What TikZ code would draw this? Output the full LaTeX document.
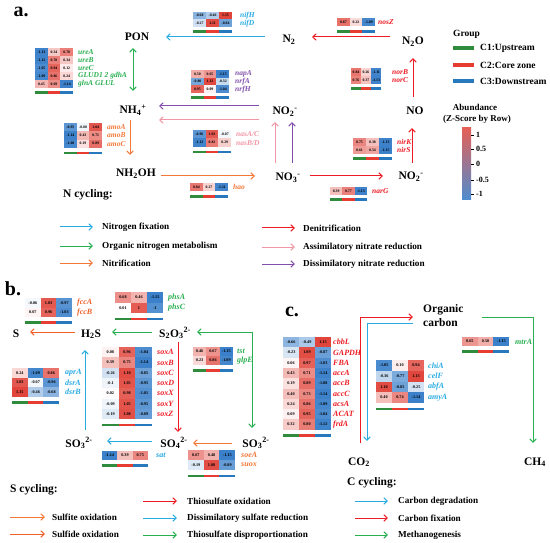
\documentclass[tikz,border=0pt]{standalone}
\usepackage{fontspec}
\setmainfont{Liberation Serif}
\usetikzlibrary{arrows.meta}
\definecolor{cblue}{RGB}{41,171,226}
\definecolor{cgreen}{RGB}{40,175,80}
\definecolor{corange}{RGB}{243,120,55}
\definecolor{corange2}{RGB}{240,95,40}
\definecolor{cred}{RGB}{237,28,36}
\definecolor{cpink}{RGB}{240,150,165}
\definecolor{cpurple}{RGB}{130,80,170}
\definecolor{gg}{RGB}{47,140,60}
\definecolor{gr}{RGB}{230,60,50}
\definecolor{gb}{RGB}{40,120,190}
\definecolor{hred}{RGB}{224,68,58}
\definecolor{hblue}{RGB}{58,128,202}
\newcommand{\subsup}[2]{\textsubscript{#1}\textsuperscript{#2}}
\def\numfs{3.8}
\def\labfs{7.5}
\newcommand{\hcell}[6]{%
  \pgfmathsetmacro{\hp}{min(100,abs(#6)/1.15*100)}%
  \pgfmathtruncatemacro{\hneg}{(#6)<0}%
  \ifnum\hneg=1 \def\hc{hblue}\else\def\hc{hred}\fi
  \fill[fill=\hc!\hp!white] (#2,#3) rectangle ++(#4,#5);
  \node[num] (#1) at ({#2+#4/2},{#3+#5/2}) {#6};
}
% name, x, y, w, h, nrows, label colour, label x, rows
\newcommand{\heat}[9]{%
  \foreach [count=\r] \va/\vb/\vc/\lab in {#9} {
    \pgfmathsetmacro{\yy}{#3+(\r-1)*#5}
    \hcell{#1-\r-1}{#2}{\yy}{#4}{#5}{\va}
    \pgfmathsetmacro{\xb}{#2+#4}
    \hcell{#1-\r-2}{\xb}{\yy}{#4}{#5}{\vb}
    \pgfmathsetmacro{\xc}{#2+2*#4}
    \hcell{#1-\r-3}{\xc}{\yy}{#4}{#5}{\vc}
    \node[glab,text=#7] (#1-l\r) at (#8,{\yy+#5/2}) {\lab};
  }
  \pgfmathsetmacro{\by}{#3+#6*#5+0.5*#5-0.5}
  \fill[gg] (#2,\by) rectangle ++(#4,2.5);
  \fill[gr] ({#2+#4},\by) rectangle ++(#4,2.5);
  \fill[gb] ({#2+2*#4},\by) rectangle ++(#4,2.5);
}
\begin{document}
\begin{tikzpicture}[x=1pt,y=-1pt,
  arr/.style={line width=1pt,-{Straight Barb[length=3.5pt,width=6.5pt]}},
  darr/.style={line width=1pt,{Straight Barb[length=3.5pt,width=6.5pt]}-{Straight Barb[length=3.5pt,width=6.5pt]}},
  chem/.style={font=\fontsize{11.5}{14}\selectfont\bfseries,inner sep=0pt,anchor=base},
  num/.style={font=\fontsize{\numfs}{\numfs}\selectfont\bfseries,inner sep=0pt},
  glab/.style={font=\fontsize{\labfs}{\labfs}\selectfont\bfseries\itshape,inner sep=0pt,anchor=west},
  leg/.style={font=\fontsize{9.2}{10}\selectfont\bfseries,inner sep=0pt,anchor=west},
  legh/.style={font=\fontsize{11.5}{12}\selectfont\bfseries,inner sep=0pt,anchor=west},
  ttl/.style={font=\fontsize{20}{22}\selectfont\bfseries,inner sep=0pt},
  grp/.style={font=\fontsize{9.5}{11}\selectfont\bfseries,inner sep=0pt},
  tick/.style={font=\fontsize{8}{9}\selectfont\bfseries,inner sep=0pt,anchor=west}]
\useasboundingbox (0,0) rectangle (550,543);
\fill[white] (0,0) rectangle (550,543);

% ================= panel a =================
\node[ttl] (ta) at (21,12) {a.};
\node[chem] (pon) at (137,41) {PON};
\node[chem] (n2) at (289,43) {N\textsubscript{2}};
\node[chem] (n2o) at (413,45) {N\textsubscript{2}O};
\node[chem] (nh4) at (133,114) {NH\subsup{4}{+}};
\node[chem] (no2a) at (285,115) {NO\subsup{2}{-}};
\node[chem] (no) at (415,115) {NO};
\node[chem] (nh2oh) at (136,177) {NH\textsubscript{2}OH};
\node[chem] (no3) at (288,181) {NO\subsup{3}{-}};
\node[chem] (no2b) at (411,180) {NO\subsup{2}{-}};

\coordinate (fixA) at (265,37); \coordinate (fixB) at (166,37);
\coordinate (nosA) at (390,37); \coordinate (nosB) at (312,37);
\coordinate (norA) at (413,97); \coordinate (norB) at (413,58);
\coordinate (ureA) at (133,48); \coordinate (ureB) at (133,91);
\coordinate (dnrA) at (259,106); \coordinate (dnrB) at (159,106);
\coordinate (anrA) at (259,120); \coordinate (anrB) at (159,120);
\coordinate (anrC) at (275,163); \coordinate (anrD) at (275,122);
\coordinate (dnrC) at (292,163); \coordinate (dnrD) at (292,122);
\coordinate (narA) at (310,176); \coordinate (narB) at (383,176);
\coordinate (nirA) at (412,163); \coordinate (nirB) at (412,128);
\coordinate (haoA) at (161,176); \coordinate (haoB) at (255,176);
\coordinate (amoA) at (130,120); \coordinate (amoB) at (130,155);

\draw[arr,cblue] (fixA) -- (fixB);
\draw[arr,cred] (nosA) -- (nosB);
\draw[arr,cred] (norA) -- (norB);
\draw[darr,cgreen] (ureA) -- (ureB);
\draw[arr,cpurple] (dnrA) -- (dnrB);
\draw[arr,cpink] (anrA) -- (anrB);
\draw[arr,cpink] (anrC) -- (anrD);
\draw[arr,cpurple] (dnrC) -- (dnrD);
\draw[arr,cred] (narA) -- (narB);
\draw[arr,cred] (nirA) -- (nirB);
\draw[arr,corange] (haoA) -- (haoB);
\draw[arr,corange] (amoA) -- (amoB);

\heat{hure}{35}{48}{12.7}{8}{5}{cgreen}{78}{-1.13/0.34/0.78/ureA, -1.12/0.78/0.34/ureB, -1.05/0.94/0.12/ureC, -1.09/0.86/0.24/GLUD1 2 gdhA, 0.45/0.69/-1.14/glnA GLUL}
\heat{hnif}{193}{12}{13}{7.5}{2}{cblue}{240}{-0.68/-0.46/1.15/nifH, -0.27/1.11/-0.84/nifD}
\heat{hnos}{337}{18}{12.7}{8.5}{1}{cred}{378}{0.87/0.22/-1.09/nosZ}
\heat{hnap}{191}{70}{12.7}{7.7}{3}{cpurple}{235}{0.50/0.65/-1.15/napA, -0.80/1.12/-0.32/nrfA, 0.95/0.09/-1.04/nrfH}
\heat{hnor}{351}{68}{10}{8}{2}{cred}{392}{0.84/0.26/-1.11/norB, 0.76/0.37/-1.13/norC}
\heat{hamo}{64}{123}{12.7}{8.3}{3}{corange}{107}{-0.95/-0.08/1.04/amoA, -1.14/0.43/0.71/amoB, -1.08/0.19/0.89/amoC}
\heat{hnas}{193}{130}{12.7}{8.5}{2}{cpink}{236}{-0.96/1.03/-0.07/nasA\slash C, -1.12/0.82/0.29/nasB\slash D}
\heat{hhao}{190}{183}{12.7}{8.5}{1}{corange}{233}{0.84/0.27/-1.11/hao}
\heat{hnar}{330}{187}{12.3}{8}{1}{cred}{372}{0.39/0.77/-1.13/narG}
\heat{hnir}{353}{138}{13}{8}{2}{cred}{397}{0.75/0.38/-1.13/nirK, 0.61/0.54/-1.15/nirS}

% group legend
\node[grp,anchor=west] (lgrp) at (453,34) {Group};
\fill[gg] (453,46.5) rectangle (474,50);
\fill[gr] (453,63.5) rectangle (474,67);
\fill[gb] (453,79.5) rectangle (474,83);
\node[grp,anchor=west] (lc1) at (480,48) {C1:Upstream};
\node[grp,anchor=west] (lc2) at (480,65) {C2:Core zone};
\node[grp,anchor=west] (lc3) at (480,81) {C3:Downstream};
\node[grp,font=\fontsize{9}{10}\selectfont\bfseries] (lab) at (475,107) {Abundance};
\node[grp,font=\fontsize{9}{10}\selectfont\bfseries] (lzs) at (477,119.5) {(Z-Score by Row)};
\shade[top color=hred!85!white,middle color=white,bottom color=hblue!90!white] (462,128) rectangle (471,200);
\foreach \v/\yy [count=\i] in {1/135,0.5/149,0/164,-0.5/180,-1/194} {
  \draw[line width=0.6pt] (471,\yy) -- (474,\yy);
  \node[tick] (tk\i) at (476,\yy) {\v};
}

% N legend
\node[legh] (ncyc) at (63,195) {N cycling:};
\coordinate (l1a) at (60,227); \coordinate (l1b) at (93,227);
\coordinate (l2a) at (60,246); \coordinate (l2b) at (93,246);
\coordinate (l3a) at (60,263); \coordinate (l3b) at (93,263);
\coordinate (l4a) at (262,228); \coordinate (l4b) at (295,228);
\coordinate (l5a) at (262,247); \coordinate (l5b) at (295,247);
\coordinate (l6a) at (262,264); \coordinate (l6b) at (295,264);
\draw[arr,cblue] (l1a) -- (l1b);
\draw[arr,cgreen] (l2a) -- (l2b);
\draw[arr,corange] (l3a) -- (l3b);
\draw[arr,cred] (l4a) -- (l4b);
\draw[arr,cpink] (l5a) -- (l5b);
\draw[arr,cpurple] (l6a) -- (l6b);
\node[leg] (t1) at (102,227) {Nitrogen fixation};
\node[leg] (t2) at (102,246) {Organic nitrogen metabolism};
\node[leg] (t3) at (102,263) {Nitrification};
\node[leg] (t4) at (303,228) {Denitrification};
\node[leg] (t5) at (303,247) {Assimilatory nitrate reduction};
\node[leg] (t6) at (303,264) {Dissimilatory nitrate reduction};

% ================= panel b =================
\def\numfs{4.2}
\def\labfs{8}
\node[ttl] (tb) at (13,289) {b.};
\node[chem] (s) at (16,337) {S};
\node[chem] (h2s) at (91,337) {H\textsubscript{2}S};
\node[chem] (s2o3) at (175,337) {S\textsubscript{2}O\subsup{3}{2-}};
\node[chem] (so3a) at (79,447) {SO\subsup{3}{2-}};
\node[chem] (so4) at (174,447) {SO\subsup{4}{2-}};
\node[chem] (so3b) at (256,447) {SO\subsup{3}{2-}};

\coordinate (b1a) at (75,332); \coordinate (b1b) at (30,332);
\coordinate (b2a) at (152,332); \coordinate (b2b) at (112,332);
\coordinate (b3a) at (197,332); \coordinate (b3c) at (252,332); \coordinate (b3b) at (252,428);
\coordinate (b4a) at (178,342); \coordinate (b4b) at (178,432);
\coordinate (b5a) at (232,443); \coordinate (b5b) at (193,443);
\coordinate (b6a) at (152,441); \coordinate (b6b) at (107,441);
\coordinate (b7a) at (85,430); \coordinate (b7b) at (85,350);
\draw[arr,corange2] (b1a) -- (b1b);
\draw[arr,cgreen] (b2a) -- (b2b);
\draw[darr,cgreen] (b3a) -- (b3c) -- (b3b);
\draw[arr,cred] (b4a) -- (b4b);
\draw[arr,corange] (b5a) -- (b5b);
\draw[arr,cblue] (b6a) -- (b6b);
\draw[arr,cblue] (b7a) -- (b7b);

\heat{hfcc}{25}{298}{15.7}{9.5}{2}{corange2}{77}{-0.06/1.03/-0.97/fccA, 0.07/0.96/-1.03/fccB}
\heat{hphs}{115}{292}{16}{10.5}{2}{cgreen}{168}{0.68/0.46/-1.15/phsA, 0.01/1/-1/phsC}
\heat{htst}{193}{347}{13.3}{9}{2}{cgreen}{237}{0.46/0.67/-1.15/tst, 0.23/0.86/-1.09/glpE}
\heat{hsox}{102}{347}{16.7}{10.3}{7}{cred}{157}{0.08/0.96/-1.04/soxA, 0.39/0.75/-1.14/soxB, -0.26/1.10/-0.85/soxC, -0.1/1.05/-0.95/soxD, 0.02/0.98/-1.01/soxX, -0.09/1.05/-0.95/soxY, -0.19/1.08/-0.89/soxZ}
\heat{hdsr}{12}{368}{15.7}{9.7}{3}{cblue}{65}{0.24/-1.09/0.86/aprA, 1.03/-0.07/-0.96/dsrA, 1.15/-0.46/-0.68/dsrB}
\heat{hsat}{102}{451}{15.3}{9}{1}{cblue}{156}{-1.14/0.39/0.75/sat}
\heat{hsoe}{188}{450}{15.7}{10}{2}{corange}{241}{0.67/0.48/-1.15/soeA, -0.19/1.08/-0.89/suox}

% S legend
\node[legh] (scyc) at (10,490) {S cycling:};
\coordinate (s1a) at (10,517); \coordinate (s1b) at (45,517);
\coordinate (s2a) at (10,534); \coordinate (s2b) at (45,534);
\coordinate (s3a) at (143,501); \coordinate (s3b) at (177,501);
\coordinate (s4a) at (143,518); \coordinate (s4b) at (177,518);
\coordinate (s5a) at (143,535); \coordinate (s5b) at (177,535);
\draw[arr,corange] (s1a) -- (s1b);
\draw[arr,corange2] (s2a) -- (s2b);
\draw[arr,cred] (s3a) -- (s3b);
\draw[arr,cblue] (s4a) -- (s4b);
\draw[arr,cgreen] (s5a) -- (s5b);
\node[leg] (st1) at (52,517) {Sulfite oxidation};
\node[leg] (st2) at (52,534) {Sulfide oxidation};
\node[leg] (st3) at (187,501) {Thiosulfate oxidation};
\node[leg] (st4) at (187,518) {Dissimilatory sulfate reduction};
\node[leg] (st5) at (187,535) {Thiosulfate disproportionation};

% ================= panel c =================
\node[ttl] (tc) at (292,312) {c.};
\node[chem,anchor=north west,align=left] (orgc) at (423,304) {Organic\\carbon};
\node[chem] (co2) at (359,465) {CO\textsubscript{2}};
\node[chem] (ch4) at (535,465) {CH\textsubscript{4}};
\coordinate (c1a) at (360,443); \coordinate (c1c) at (360,317); \coordinate (c1b) at (413,317);
\coordinate (c2a) at (413,323); \coordinate (c2c) at (367,323); \coordinate (c2b) at (367,441);
\coordinate (c3a) at (482,317); \coordinate (c3c) at (533,317); \coordinate (c3b) at (533,443);
\draw[arr,cred] (c1a) -- (c1c) -- (c1b);
\draw[arr,cblue] (c2a) -- (c2c) -- (c2b);
\draw[arr,cgreen] (c3a) -- (c3c) -- (c3b);

\heat{hcbb}{283}{337}{16}{10.3}{9}{cred}{333}{-0.66/-0.49/1.15/cbbL, -0.23/1.09/-0.87/GAPDH, 0.06/0.97/-1.03/FBA, 0.43/0.71/-1.14/accA, 0.19/0.89/-1.08/accB, 0.40/0.73/-1.14/accC, 0.24/0.86/-1.09/acsA, 0.09/0.95/-1.04/ACAT, 0.32/0.80/-1.12/frdA}
\heat{hchi}{376}{360}{16}{10.75}{4}{cblue}{428}{-1.05/0.10/0.94/chiA, -0.36/-0.77/1.13/celF, 1.10/-0.85/-0.25/abfA, 0.40/0.74/-1.14/amyA}
\heat{hmtr}{462}{337}{15.7}{9}{1}{cgreen}{515}{0.65/0.50/-1.15/mtrA}

% C legend
\node[legh] (ccyc) at (347,483) {C cycling:};
\coordinate (k1a) at (355,501); \coordinate (k1b) at (388,501);
\coordinate (k2a) at (355,518); \coordinate (k2b) at (388,518);
\coordinate (k3a) at (355,535); \coordinate (k3b) at (388,535);
\draw[arr,cblue] (k1a) -- (k1b);
\draw[arr,cred] (k2a) -- (k2b);
\draw[arr,cgreen] (k3a) -- (k3b);
\node[leg] (kt1) at (398,501) {Carbon degradation};
\node[leg] (kt2) at (398,518) {Carbon fixation};
\node[leg] (kt3) at (398,535) {Methanogenesis};
\end{tikzpicture}
\end{document}
